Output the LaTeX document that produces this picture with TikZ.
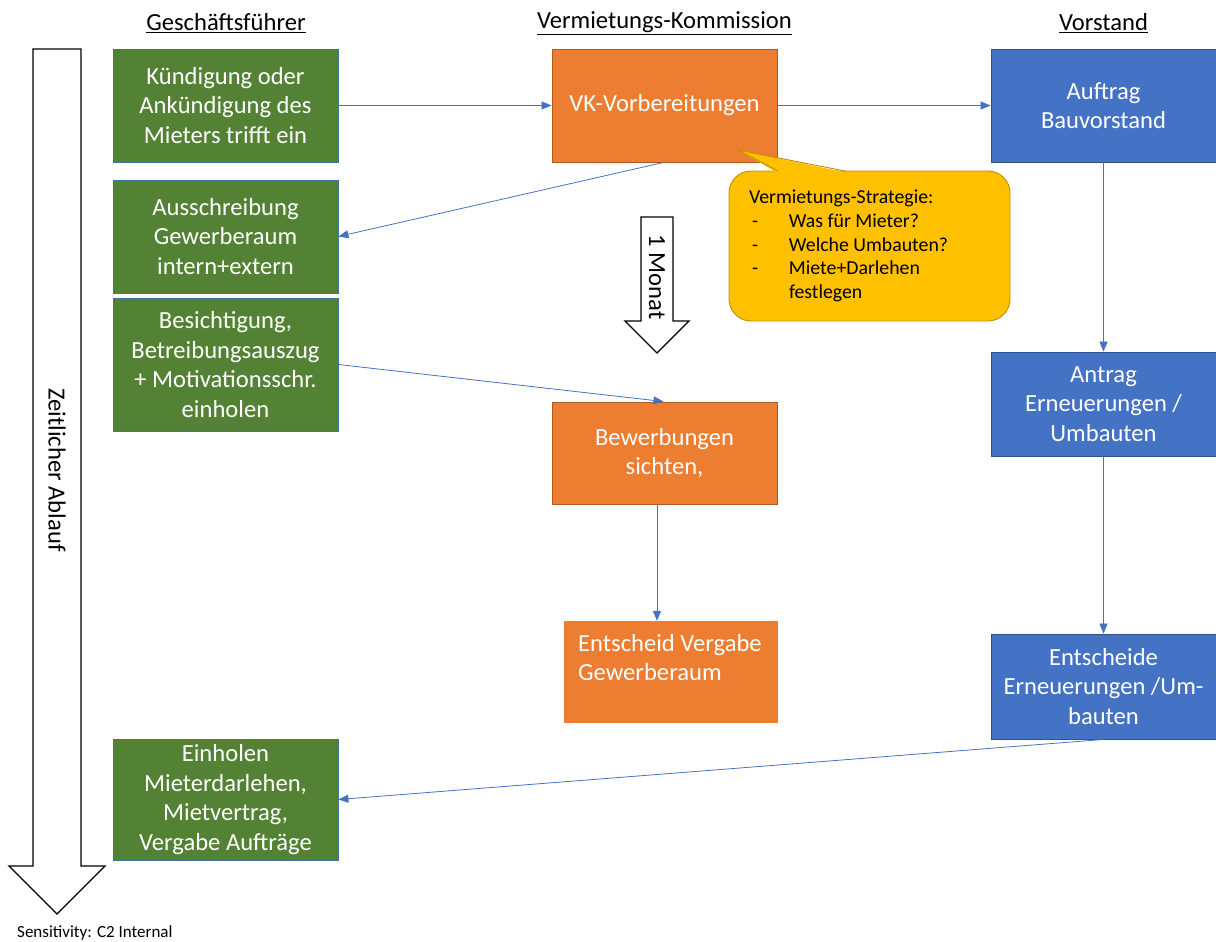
\documentclass[tikz,border=0pt]{standalone}
\usepackage{fontspec}
\setmainfont{Carlito}
\usetikzlibrary{arrows.meta,calc}
\definecolor{gfill}{HTML}{548235}
\definecolor{gline}{HTML}{41719C}
\definecolor{ofill}{HTML}{ED7D31}
\definecolor{oline}{HTML}{AE5A21}
\definecolor{bfill}{HTML}{4472C4}
\definecolor{bline}{HTML}{2F528F}
\definecolor{yfill}{HTML}{FFC000}
\definecolor{yline}{HTML}{BF9000}
\definecolor{conn}{HTML}{4472C4}
\tikzset{
  boxtext/.style={text=white, align=center, inner sep=0pt, font=\fontsize{24.6}{29.5}\selectfont},
  gbox/.style={boxtext, fill=gfill, draw=gline, line width=0.9pt, minimum width=225pt},
  obox/.style={boxtext, fill=ofill, draw=oline, line width=0.9pt, minimum width=225pt},
  bbox/.style={boxtext, fill=bfill, draw=bline, line width=0.9pt, minimum width=225pt},
  header/.style={font=\fontsize{24.6}{29}\selectfont, inner sep=0pt},
  rottext/.style={rotate=-90, font=\fontsize{24.6}{29}\selectfont, inner sep=0pt},
  flow/.style={draw=conn, line width=0.8pt, -{Triangle[length=10pt,width=8pt]}},
  bigarrow/.style={draw=black, line width=1.3pt, fill=white, line join=miter},
}
\begin{document}
\begin{tikzpicture}[x=1pt,y=-1pt]
\useasboundingbox[fill=white] (0,0) rectangle (1216,942);

% headers
\node[header] (h1) at (226,23) {\underline{Geschäftsführer}};
\node[header] (h2) at (664.5,23) {\underline{Vermietungs-Kommission}};
\node[header] (h3) at (1103.5,23) {\underline{Vorstand}};

% time arrow
\draw[bigarrow] (33,49) -- (81,49) -- (81,866) -- (105,866) -- (57,914) -- (9,866) -- (33,866) -- cycle;
\node[rottext] (zeit) at (57,470) {Zeitlicher Ablauf};

% 1 Monat arrow
\draw[bigarrow] (641,217) -- (673,217) -- (673,321) -- (689,321) -- (657,353) -- (625,321) -- (641,321) -- cycle;
\node[rottext] (monat) at (657,277) {1 Monat};

% green boxes
\node[gbox, minimum height=113pt] (g1) at (225.5,105.5) {Kündigung oder\\Ankündigung des\\Mieters trifft ein};
\node[gbox, minimum height=113pt] (g2) at (225.5,236.5) {Ausschreibung\\Gewerberaum\\intern+extern};
\node[gbox, minimum height=133pt] (g3) at (225.5,364.5) {Besichtigung,\\Betreibungsauszug\\+ Motivationsschr.\\einholen};
\node[gbox, minimum height=121pt] (g4) at (225.5,799.5) {Einholen\\Mieterdarlehen,\\Mietvertrag,\\Vergabe Aufträge};

% orange boxes
\node[obox, minimum height=113pt] (vk) at (664.5,105.5) {VK-Vorbereitungen};
\node[obox, minimum height=102pt] (bew) at (664.5,453) {Bewerbungen\\sichten,};
\node[boxtext, fill=ofill, minimum width=214pt, minimum height=102pt] (ent) at (671,672) {};
\node[boxtext, anchor=north west, align=flush left] (entt) at (578,634) {Entscheid Vergabe\\Gewerberaum};

% blue boxes
\node[bbox, minimum height=113pt] (b1) at (1103.5,105.5) {Auftrag\\Bauvorstand};
\node[bbox, minimum height=104pt] (b2) at (1103.5,404) {Antrag\\Erneuerungen /\\Umbauten};
\node[bbox, minimum height=105pt] (b3) at (1103.5,686.5) {Entscheide\\Erneuerungen /Um-\\bauten};

% callout
\node[fill=yfill, draw=yline, line width=0.9pt, rounded corners=22pt, minimum width=281pt, minimum height=150pt,
      text width=241pt, inner xsep=20pt, inner ysep=0pt, align=flush left, font=\fontsize{19.8}{23.8}\selectfont] (cb) at (869.5,246)
 {Vermietungs-Strategie:\\
  \makebox[40pt][l]{\hspace{3pt}-}Was für Mieter?\\
  \makebox[40pt][l]{\hspace{3pt}-}Welche Umbauten?\\
  \makebox[40pt][l]{\hspace{3pt}-}Miete+Darlehen\\
  \makebox[40pt][l]{}festlegen};
\coordinate (tip) at (738,150);
\fill[yfill] (777,172.5) -- (tip) -- (846,172.5) -- cycle;
\draw[yline, line width=0.9pt, line join=miter] (778,171) -- (tip) -- (845,171);

% connectors
\coordinate (bs) at ($(bew.south)+(-7.5,0)$);
\draw[flow] (g1.east) -- (vk.west);
\draw[flow] (vk.east) -- (b1.west);
\draw[flow] ($(vk.south)+(-1,0)$) -- (g2.east);
\draw[flow] (g3.east) -- ($(bew.north)+(-1,0)$);
\draw[flow] (bs) -- (bs |- ent.north);
\draw[flow] (b1.south) -- (b2.north);
\draw[flow] (b2.south) -- (b3.north);
\draw[flow] (b3.south) -- (g4.east);

% footer
\node[anchor=base west, font=\fontsize{17}{20}\selectfont, inner sep=0pt] (sens) at (17,937) {Sensitivity: C2 Internal};
\end{tikzpicture}
\end{document}
